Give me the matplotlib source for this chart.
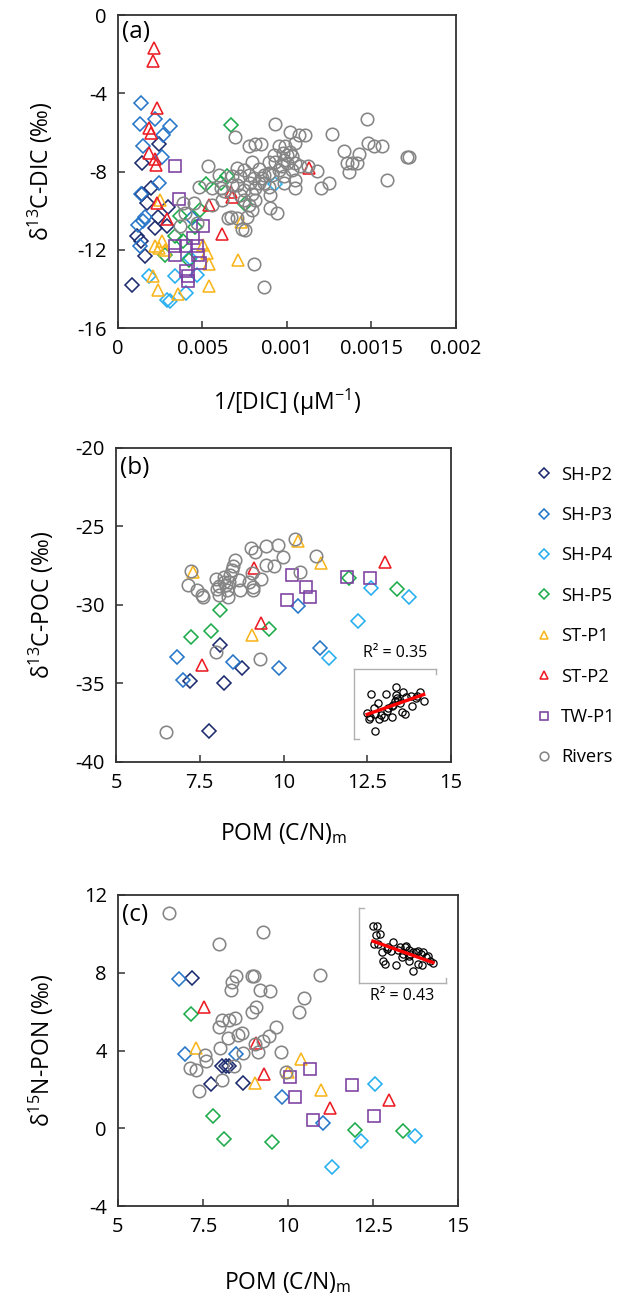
import numpy as np
import matplotlib
matplotlib.use('Agg')
from matplotlib import pyplot as plt
from matplotlib.lines import Line2D

plt.rcParams['font.family'] = ['Open Sans', 'DejaVu Sans']
plt.rcParams['mathtext.fontset'] = 'custom'
plt.rcParams['mathtext.rm'] = 'Open Sans'
plt.rcParams['mathtext.it'] = 'Open Sans:italic'
plt.rcParams['axes.unicode_minus'] = False

# groups: name, colour, marker
groups = ['SH-P2', 'SH-P3', 'SH-P4', 'SH-P5', 'ST-P1', 'ST-P2', 'TW-P1', 'Rivers']
colors = ['#1c2a6e', '#2675c9', '#25aef0', '#1daa4b', '#f9b51c', '#ec1c24', '#7b3fa2', '#858585']
markers = ['D', 'D', 'D', 'D', '^', '^', 's', 'o']

# ---- panel (a): 1/[DIC] (x in 1e-4 uM-1) vs d13C-DIC
a_x = {
    'SH-P2': [2.45, 1.40, 1.96, 1.40, 1.70, 2.94, 2.35, 2.19, 2.89, 1.11, 1.36, 1.60, 0.85],
    'SH-P3': [1.38, 2.17, 1.30, 3.08, 2.69, 1.50, 2.63, 2.45, 1.36, 1.60, 1.21, 1.50, 1.30, 4.37],
    'SH-P4': [1.84, 3.38, 4.01, 2.89, 3.08, 9.27, 4.66, 4.27],
    'SH-P5': [6.70, 5.22, 6.11, 6.44, 7.49, 4.86, 3.68, 4.53, 3.38, 2.79, 4.21, 3.87],
    'ST-P1': [2.49, 7.29, 2.19, 2.59, 2.45, 2.77, 5.06, 5.26, 5.39, 7.13, 5.41, 2.09, 2.39, 3.54],
    'ST-P2': [2.13, 2.07, 2.31, 1.82, 1.98, 1.82, 2.17, 2.27, 11.32, 6.66, 6.76, 5.41, 2.31, 2.90, 6.13],
    'TW-P1': [3.38, 3.64, 5.02, 3.38, 3.38, 4.01, 4.66, 4.41, 4.72, 4.86, 4.01, 4.17, 4.13],
    'Rivers': [9.31, 14.76, 10.20, 10.73, 11.05, 12.65, 6.90, 7.73, 8.12, 8.48, 9.50, 9.90, 10.45,
               14.82, 15.16, 15.65, 13.38, 14.29, 13.54, 13.83, 14.13, 13.69, 17.09, 15.91, 12.01,
               12.51, 11.76, 11.26, 9.21, 9.74, 10.00, 10.30, 9.80, 8.91, 9.31, 10.49, 10.79, 9.70,
               5.32, 7.03, 7.92, 7.43, 8.32, 8.62, 8.91, 9.50, 10.30, 5.99, 6.74, 7.23, 7.73, 8.02,
               8.52, 9.11, 9.80, 10.45, 7.82, 8.32, 8.62, 7.03, 4.82, 5.55, 6.11, 7.43, 8.12, 8.91,
               9.84, 10.45, 6.28, 6.74, 7.23, 7.92, 9.01, 7.43, 8.12, 6.15, 5.55, 4.47, 3.87, 7.73,
               7.92, 9.01, 9.41, 6.54, 6.70, 7.03, 7.63, 3.68, 4.66, 7.33, 7.49, 3.97, 8.02, 8.67,
               9.98, 10.18, 17.20],
}
a_y = {
    'SH-P2': [-6.59, -7.57, -8.85, -9.14, -9.62, -9.82, -10.33, -10.89, -10.77, -11.32, -11.57, -12.31, -13.82],
    'SH-P3': [-4.51, -5.31, -5.57, -5.67, -6.13, -6.69, -7.27, -8.60, -9.14, -10.30, -10.72, -10.55, -11.79, -10.38],
    'SH-P4': [-13.36, -13.36, -14.21, -14.55, -14.64, -8.63, -13.28, -12.42],
    'SH-P5': [-5.62, -8.63, -8.60, -8.22, -9.65, -9.99, -10.26, -10.84, -11.32, -12.25, -12.51, -11.57],
    'ST-P1': [-9.45, -10.60, -11.79, -11.57, -11.91, -12.00, -11.74, -12.17, -12.71, -12.54, -13.87, -13.33, -14.04, -14.25],
    'ST-P2': [-1.67, -2.33, -4.77, -5.75, -6.01, -7.03, -7.37, -7.66, -7.83, -9.04, -9.31, -9.70, -9.62, -10.43, -11.18],
    'TW-P1': [-7.71, -9.40, -10.81, -11.79, -12.25, -11.79, -11.83, -11.40, -12.25, -12.68, -13.11, -13.36, -13.62],
    'Rivers': [-5.57, -5.33, -5.96, -6.13, -6.13, -6.08, -6.25, -6.72, -6.59, -6.59, -6.72, -6.72, -6.55,
               -6.55, -6.67, -6.67, -6.94, -7.10, -7.57, -7.57, -7.57, -8.03, -7.27, -8.42, -8.82,
               -8.60, -7.97, -7.74, -7.15, -7.06, -7.15, -7.23, -7.40, -7.49, -7.49, -7.57, -7.74, -7.74,
               -7.74, -7.83, -7.49, -7.91, -7.88, -8.17, -8.08, -7.91, -7.91, -8.17, -8.25, -8.25, -8.17, -8.34,
               -8.34, -8.17, -8.25, -8.42, -8.60, -8.60, -8.60, -8.68, -8.77, -8.85, -8.85, -8.94, -8.85, -8.77,
               -8.60, -8.85, -9.02, -8.68, -9.19, -9.14, -9.19, -9.45, -9.45, -9.45, -9.70, -9.62, -9.62, -9.70,
               -9.96, -9.87, -10.13, -10.38, -10.30, -10.38, -10.30, -10.81, -10.64, -10.94, -11.01, -10.13, -12.71, -13.91,
               -7.57, -6.98, -7.27],
}

# ---- panel (b): POM (C/N)m vs d13C-POC
b_x = {
    'SH-P2': [7.79, 8.23, 8.10, 8.75, 7.21],
    'SH-P3': [6.82, 6.99, 8.50, 9.87, 10.44, 11.08],
    'SH-P4': [11.36, 12.22, 12.60, 13.76],
    'SH-P5': [7.24, 7.83, 8.10, 9.56, 11.95, 13.39],
    'ST-P1': [7.31, 9.05, 10.42, 11.13],
    'ST-P2': [7.56, 9.13, 9.32, 13.02],
    'TW-P1': [10.26, 10.09, 10.68, 10.78, 11.89, 12.57],
    'Rivers': [6.50, 7.99, 9.30, 7.24, 7.16, 7.41, 7.56, 7.61, 7.99, 8.01, 8.06, 8.06, 8.22, 8.28,
               8.30, 8.35, 8.38, 8.40, 8.45, 8.50, 8.55, 8.68, 8.70, 8.98, 9.02, 9.15, 9.05, 9.08,
               9.10, 9.32, 9.47, 9.49, 9.71, 9.84, 9.99, 10.34, 10.49, 10.98, 8.22],
}
b_y = {
    'SH-P2': [-38.02, -35.00, -32.56, -34.00, -34.85],
    'SH-P3': [-33.34, -34.79, -33.66, -34.04, -30.07, -32.73],
    'SH-P4': [-33.36, -31.02, -28.90, -29.47],
    'SH-P5': [-32.07, -31.64, -30.32, -31.56, -28.26, -28.98],
    'ST-P1': [-27.87, -31.92, -25.92, -27.34],
    'ST-P2': [-33.83, -27.66, -31.13, -27.28],
    'TW-P1': [-28.09, -29.68, -28.83, -29.51, -28.19, -28.26],
    'Rivers': [-38.09, -32.98, -33.47, -27.81, -28.72, -29.04, -29.36, -29.47, -28.36, -29.00, -29.36,
               -28.79, -28.19, -28.72, -29.04, -29.47, -28.51, -28.09, -27.77, -27.55, -27.13, -28.40,
               -29.04, -28.51, -26.38, -26.60, -27.98, -28.83, -29.04, -28.36, -27.45, -26.24, -27.55,
               -26.17, -26.96, -25.81, -27.87, -26.87, -28.51],
}

# ---- panel (c): POM (C/N)m vs d15N-PON
c_x = {
    'SH-P2': [7.18, 7.74, 8.68, 8.07, 8.19, 8.26],
    'SH-P3': [6.78, 6.98, 8.46, 9.83, 11.03],
    'SH-P4': [11.30, 12.15, 12.55, 13.74],
    'SH-P5': [7.16, 7.79, 8.11, 9.54, 11.98, 13.38],
    'ST-P1': [7.28, 9.02, 10.00, 10.37, 10.98],
    'ST-P2': [7.52, 9.05, 9.29, 11.25, 12.97],
    'TW-P1': [10.07, 10.22, 10.65, 10.73, 11.89, 12.52],
    'Rivers': [6.50, 7.96, 9.26, 8.94, 8.99, 8.48, 8.36, 8.31, 9.17, 9.48, 10.93, 10.47, 10.32,
               8.94, 9.05, 7.96, 8.07, 8.26, 8.44, 8.23, 7.99, 8.53, 8.66, 9.03, 9.12, 8.68, 9.44,
               9.66, 9.78, 9.95, 9.26, 7.55, 7.58, 7.13, 7.28, 7.38, 8.07, 8.40],
}
c_y = {
    'SH-P2': [7.72, 2.28, 2.33, 3.22, 3.19, 3.22],
    'SH-P3': [7.67, 3.84, 3.84, 1.60, 0.25],
    'SH-P4': [-1.98, -0.63, 2.28, -0.40],
    'SH-P5': [5.87, 0.62, -0.54, -0.70, -0.11, -0.15],
    'ST-P1': [4.13, 2.33, 2.88, 3.56, 1.99],
    'ST-P2': [6.22, 4.39, 2.79, 1.05, 1.43],
    'TW-P1': [2.64, 1.60, 3.07, 0.45, 2.25, 0.62],
    'Rivers': [11.09, 9.47, 10.12, 7.81, 7.84, 7.81, 7.52, 7.09, 7.09, 7.04, 7.86, 6.70, 5.96,
               5.96, 6.23, 5.21, 5.55, 5.58, 5.67, 4.64, 4.13, 4.81, 4.90, 4.35, 3.92, 3.87, 4.76,
               5.21, 3.92, 2.90, 4.47, 3.79, 3.44, 3.10, 3.02, 1.91, 2.50, 3.19],
}

# ---- inset scatter (arbitrary units)
ins_b_x = [2.1, 3.9, 5.1, 5.1, 6.0, 6.9, 7.7, 8.0, 8.5, 2.9, 2.4, 1.6, 2.0, 1.8, 3.0, 2.5, 3.3,
           4.2, 4.0, 4.6, 3.6, 5.0, 5.4, 5.6, 5.8, 6.2, 7.1, 2.6, 4.8, 5.2, 7.5, 6.4, 4.6]
ins_b_y = [6.5, 6.5, 7.4, 6.3, 6.7, 6.1, 6.1, 6.7, 5.5, 5.1, 4.4, 3.7, 3.2, 2.9, 2.8, 3.6, 3.5,
           4.4, 4.0, 3.2, 3.1, 5.4, 5.6, 5.1, 3.8, 3.6, 4.7, 1.2, 4.9, 5.9, 5.9, 6.0, 4.7]
ins_c_x = [1.6, 2.1, 1.9, 2.4, 1.7, 2.2, 2.6, 3.2, 3.9, 3.3, 2.8, 3.0, 4.3, 4.5, 4.7, 5.3, 5.7,
           5.1, 5.4, 5.9, 6.2, 6.6, 6.8, 7.1, 7.4, 7.7, 7.9, 8.2, 8.5, 5.8, 6.2, 6.8, 7.2, 4.9, 3.7, 5.7]
ins_c_y = [7.6, 7.6, 6.4, 6.6, 5.2, 5.2, 4.2, 4.6, 5.5, 4.8, 3.0, 2.5, 2.4, 4.4, 4.8, 4.8, 4.4,
           3.9, 4.9, 3.9, 4.2, 4.2, 4.3, 3.9, 4.2, 3.5, 3.6, 3.0, 2.7, 3.0, 1.6, 2.6, 2.4, 3.5, 4.3, 3.6]

spine_col = '#333333'
ms = {'D': 7.4, '^': 9.0, 's': 8.6, 'o': 9.0}


def style_ax(ax):
    for s in ax.spines.values():
        s.set_color(spine_col)
        s.set_linewidth(1.3)
    ax.tick_params(direction='in', length=5, width=1.1, color=spine_col,
                   labelsize=14.5, pad=8, top=False, right=False)


def scatter_groups(ax, xs, ys, scale=1.0):
    for g, c, m in zip(groups, colors, markers):
        x = np.array(xs[g]) * scale
        ax.plot(x, ys[g], linestyle='none', marker=m, ms=ms[m], mfc='none',
                mec=c, mew=1.15)


def inset(rect, x, y, which):
    ia = fig.add_axes(rect)
    ia.plot(x, y, 'o', ms=5.2, mfc='none', mec='black', mew=0.9)
    k, b = np.polyfit(x, y, 1)
    xl = np.array([min(x), max(x)])
    ia.plot(xl, k * xl + b, color='red', lw=2.4)
    ia.set_xlim(0, 10)
    ia.set_ylim(0, 10)
    ia.set_xticks([])
    ia.set_yticks([])
    ia.patch.set_alpha(0)
    for s in ia.spines.values():
        s.set_color('#b0b0b0')
        s.set_linewidth(1.0)
    if which == 'top':
        ia.spines['bottom'].set_visible(False)
        ia.spines['right'].set_visible(False)
        ia.plot([0, 0.6], [0, 0], color='#b0b0b0', lw=1.0, clip_on=False)
        ia.plot([10, 10], [10, 9.3], color='#b0b0b0', lw=1.0, clip_on=False)
    else:
        ia.spines['top'].set_visible(False)
        ia.spines['right'].set_visible(False)
        ia.plot([0, 0.6], [10, 10], color='#b0b0b0', lw=1.0, clip_on=False)
        ia.plot([10, 10], [0, 0.7], color='#b0b0b0', lw=1.0, clip_on=False)
    return ia


fig = plt.figure(figsize=(6.19, 12.95), dpi=100)

ax1 = fig.add_axes([0.1906, 0.7467, 0.546, 0.2417])
scatter_groups(ax1, a_x, a_y, scale=1e-4)
ax1.set_xlim(0, 0.002)
ax1.set_ylim(-16, 0)
ax1.set_xticks([0, 0.0005, 0.001, 0.0015, 0.002])
ax1.set_xticklabels(['0', '0.005', '0.001', '0.0015', '0.002'])
ax1.set_yticks([0, -4, -8, -12, -16])
ax1.set_ylabel('δ$^{13}$C-DIC (‰)', fontsize=16.5, labelpad=16)
ax1.set_xlabel('1/[DIC] (µM$^{-1}$)', fontsize=16.5, labelpad=20)
ax1.text(0.012, 0.985, '(a)', transform=ax1.transAxes, fontsize=17.5, va='top')
style_ax(ax1)

ax2 = fig.add_axes([0.1874, 0.4116, 0.5412, 0.2425])
scatter_groups(ax2, b_x, b_y)
ax2.set_xlim(5, 15)
ax2.set_ylim(-40, -20)
ax2.set_xticks([5, 7.5, 10, 12.5, 15])
ax2.set_xticklabels(['5', '7.5', '10', '12.5', '15'])
ax2.set_yticks([-20, -25, -30, -35, -40])
ax2.set_ylabel('δ$^{13}$C-POC (‰)', fontsize=16.5, labelpad=14)
ax2.set_xlabel('POM (C/N)$_\\mathrm{m}$', fontsize=16.5, labelpad=20)
ax2.text(0.012, 0.975, '(b)', transform=ax2.transAxes, fontsize=17.5, va='top')
style_ax(ax2)

ax3 = fig.add_axes([0.1906, 0.0687, 0.5493, 0.2402])
scatter_groups(ax3, c_x, c_y)
ax3.set_xlim(5, 15)
ax3.set_ylim(-4, 12)
ax3.set_xticks([5, 7.5, 10, 12.5, 15])
ax3.set_xticklabels(['5', '7.5', '10', '12.5', '15'])
ax3.set_yticks([-4, 0, 4, 8, 12])
ax3.set_ylabel('δ$^{15}$N-PON (‰)', fontsize=16.5, labelpad=20)
ax3.set_xlabel('POM (C/N)$_\\mathrm{m}$', fontsize=16.5, labelpad=24)
ax3.text(0.012, 0.975, '(c)', transform=ax3.transAxes, fontsize=17.5, va='top')
style_ax(ax3)

ib = inset([0.5719, 0.4293, 0.1325, 0.0541], ins_b_x, ins_b_y, 'top')
ib.text(0.5, 1.12, 'R² = 0.35', transform=ib.transAxes, ha='center', va='bottom', fontsize=11.5)
ic = inset([0.580, 0.2409, 0.1405, 0.0579], ins_c_x, ins_c_y, 'bottom')
ic.text(0.5, -0.06, 'R² = 0.43', transform=ic.transAxes, ha='center', va='top', fontsize=11.5)

handles = [Line2D([], [], linestyle='none', marker=m, ms=ms[m] * 0.7, mfc='none', mec=c, mew=1.15)
           for c, m in zip(colors, markers)]
fig.legend(handles, groups, loc='upper left', bbox_to_anchor=(0.852, 0.646),
           frameon=False, fontsize=13.2, labelspacing=1.22, handletextpad=0.45,
           handlelength=1.0, borderaxespad=0)

fig.savefig('out.png', dpi=100)
